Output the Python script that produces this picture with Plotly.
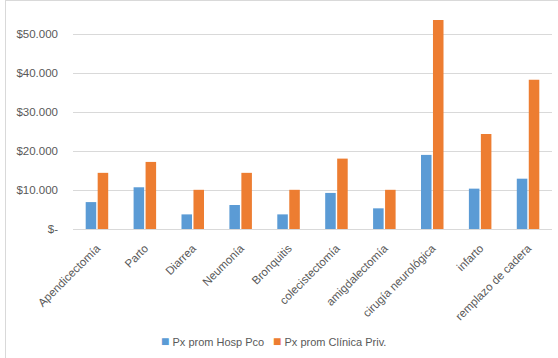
import plotly.graph_objects as go

categories = ["Apendicectomía", "Parto", "Diarrea", "Neumonía", "Bronquitis",
              "colecistectomía", "amigdalectomía", "cirugía neurológica",
              "infarto", "remplazo de cadera"]
hosp_pco = [6900, 10700, 3750, 6150, 3750, 9250, 5300, 19000, 10350, 12900]
clinica_priv = [14400, 17200, 10050, 14400, 10050, 18050, 10050, 53600, 24350, 38300]
tick_vals = [0, 10000, 20000, 30000, 40000, 50000]
tick_text = ["$-", "$10.000", "$20.000", "$30.000", "$40.000", "$50.000"]
series_names = ["Px prom Hosp Pco", "Px prom Clínica Priv."]
series_colors = ["#5B9BD5", "#ED7D31"]

W, H = 558, 358
L, R, T, B = 73, 6, 12, 129
plot_w = W - L - R
plot_h = H - T - B
ymax = plot_h / 39.0 * 10000

fig = go.Figure()
for name, vals, col in zip(series_names, [hosp_pco, clinica_priv], series_colors):
    fig.add_trace(go.Bar(x=categories, y=vals, name=name,
                         marker=dict(color=col, line=dict(width=0))))

font = dict(family="Liberation Sans, Arial, sans-serif", size=11.5, color="#595959")

def px_x(p):
    return (p - L) / plot_w

def px_y(p):
    return (H - B - p) / plot_h

legend_x = [159, 271]
annotations = []
for name, col, lx in zip(series_names, series_colors, legend_x):
    annotations.append(dict(
        xref="paper", yref="paper", x=px_x(lx), y=px_y(341),
        xanchor="left", yanchor="middle", showarrow=False,
        text=f"<span style='color:{col};font-size:14px'>■</span> {name}",
        font=dict(family="Liberation Sans, Arial, sans-serif", size=11, color="#595959"),
    ))

fig.update_layout(
    width=W, height=H,
    margin=dict(l=L, r=R, t=T, b=B),
    paper_bgcolor="white", plot_bgcolor="white",
    barmode="group", bargap=0.5, bargroupgap=0.12,
    font=font,
    showlegend=False,
    annotations=annotations,
    xaxis=dict(tickangle=-45, showgrid=False, showline=True, linecolor="#D9D9D9",
               linewidth=1, ticks="", tickfont=font, ticklabelstandoff=7),
    yaxis=dict(range=[0, ymax], tickvals=tick_vals, ticktext=tick_text,
               showgrid=True, gridcolor="#D9D9D9", gridwidth=1, zeroline=False,
               showline=False, ticks="", ticklabelstandoff=14, tickfont=font),
    shapes=[
        dict(type="line", xref="paper", yref="paper", x0=px_x(5), x1=px_x(W), y0=px_y(0.5), y1=px_y(0.5),
             line=dict(color="#D9D9D9", width=1)),
        dict(type="line", xref="paper", yref="paper", x0=px_x(5.5), x1=px_x(5.5), y0=px_y(0), y1=px_y(H),
             line=dict(color="#D9D9D9", width=1)),
    ],
)

fig.write_html("out.html")
